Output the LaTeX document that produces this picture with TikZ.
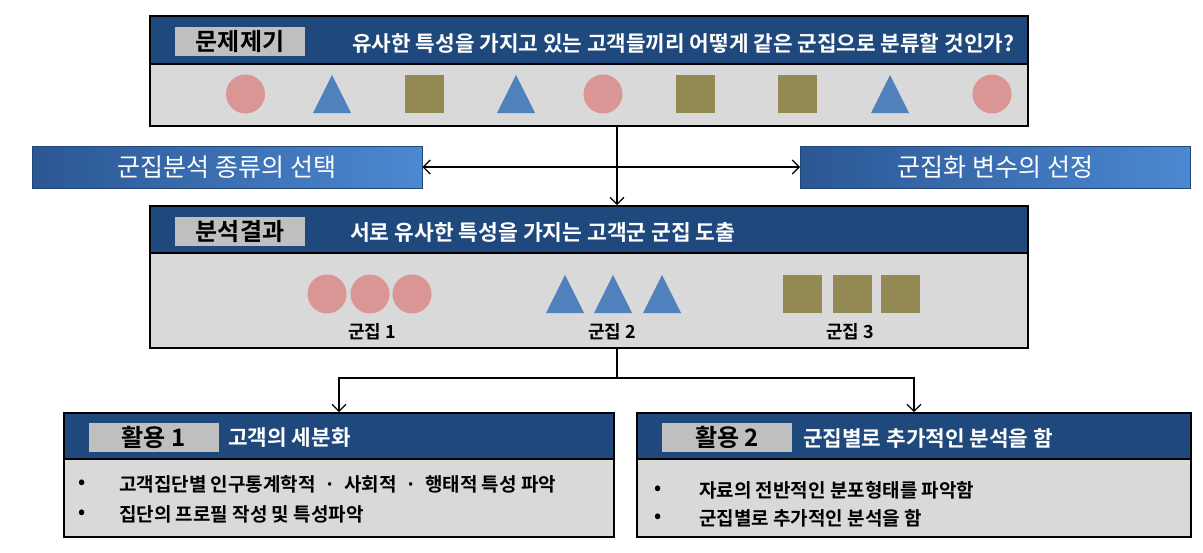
\documentclass[tikz,border=0pt]{standalone}
\usepackage{fontspec}
\setmainfont{Noto Sans CJK KR}[BoldFont={Noto Sans CJK KR Bold}]
\usetikzlibrary{calc,arrows.meta}
\definecolor{headblue}{HTML}{1F497D}
\definecolor{bodygray}{HTML}{D9D9D9}
\definecolor{taggray}{HTML}{BFBFBF}
\definecolor{pinkc}{HTML}{D99694}
\definecolor{triblue}{HTML}{4F81BD}
\definecolor{olivec}{HTML}{938953}
\definecolor{seldark}{HTML}{2B5794}
\definecolor{sellight}{HTML}{4C88D2}
\tikzset{
  headbox/.style={draw=black,line width=1.6pt,fill=headblue,inner sep=0pt},
  bodybox/.style={draw=black,line width=1.6pt,fill=bodygray,inner sep=0pt},
  tagbox/.style={fill=taggray,inner sep=0pt,minimum width=130pt,minimum height=29pt,font=\fontsize{24}{26}\selectfont\bfseries},
  headtxt/.style={anchor=west,inner sep=0pt,text=white,font=\fontsize{21.3}{24}\selectfont\bfseries},
  selbox/.style={draw=seldark!80!black,line width=0.8pt,left color=seldark,right color=sellight,minimum width=390pt,minimum height=42pt,text=white,font=\fontsize{25}{27}\selectfont},
  cltxt/.style={inner sep=0pt,font=\fontsize{18}{20}\selectfont\bfseries},
  itemtxt/.style={anchor=west,inner sep=0pt,font=\fontsize{19}{21}\selectfont\bfseries},
  barb/.style={line width=1.3pt,-{Straight Barb[length=7pt,width=14pt]}},
  dbarb/.style={line width=1.3pt,{Straight Barb[length=7pt,width=14pt]}-{Straight Barb[length=7pt,width=14pt]}}
}
\begin{document}
\begin{tikzpicture}[x=1pt,y=-1pt]
\useasboundingbox[fill=white] (0,0) rectangle (1203,552);
\coordinate (split) at (617,0);
\coordinate (fork) at (617,378);

\node[headbox,minimum width=878pt,minimum height=48pt] (probhead) at (589,40) {};
\node[bodybox,minimum width=878pt,minimum height=62pt] (probbody) at (589,95) {};
\node[tagbox] (probtag) at (240,41.5) {문제제기};
\node[headtxt] (probtxt) at (352,43) {유사한 특성을 가지고 있는 고객들끼리 어떻게 같은 군집으로 분류할 것인가?};
\foreach \x in {245.5,603,992} \fill[pinkc] (\x,94) circle (19.5);
\foreach \x in {332,516,890} \fill[triblue] (\x-19,113) -- (\x,75) -- (\x+19,113) -- cycle;
\foreach \x in {424,695,797} \fill[olivec] (\x-19.5,75) rectangle (\x+19.5,113);

\node[selbox] (kind) at (227,167) {군집분석 종류의 선택};
\node[selbox] (vars) at (995.5,167) {군집화 변수의 선정};

\node[headbox,minimum width=878pt,minimum height=47pt] (reshead) at (589,229.5) {};
\node[bodybox,minimum width=878pt,minimum height=95pt] (resbody) at (589,300.5) {};
\node[tagbox] (restag) at (240,231.5) {분석결과};
\node[headtxt,font=\fontsize{21.5}{24}\selectfont\bfseries] (restxt) at (350,232) {서로 유사한 특성을 가지는 고객군 군집 도출};
\foreach \x in {327,370,412} \fill[pinkc] (\x,294) circle (19.5);
\foreach \x in {565,613,662} \fill[triblue] (\x-19,313) -- (\x,275) -- (\x+19,313) -- cycle;
\foreach \x in {802,852,900} \fill[olivec] (\x-19.5,275) rectangle (\x+19.5,313);
\node[cltxt] (cl1) at (372,332) {군집 1};
\node[cltxt] (cl2) at (612,332) {군집 2};
\node[cltxt] (cl3) at (850,332) {군집 3};

\node[headbox,minimum width=550pt,minimum height=46pt] (usehead) at (339,436) {};
\node[bodybox,minimum width=550pt,minimum height=78pt] (usebody) at (339,498) {};
\node[tagbox] (usetag) at (153.5,437.5) {활용 1};
\node[headtxt] (usetxt) at (228,438) {고객의 세분화};
\node[itemtxt] (dota) at (78,484) {•};
\node[itemtxt] (itema) at (119,484) {고객집단별 인구통계학적 \ · \ 사회적 \ · \ 행태적 특성 파악};
\node[itemtxt] (dotb) at (78,514) {•};
\node[itemtxt] (itemb) at (119,514) {집단의 프로필 작성 및 특성파악};

\node[headbox,minimum width=554pt,minimum height=46pt] (morehead) at (914,436) {};
\node[bodybox,minimum width=554pt,minimum height=78pt] (morebody) at (914,498) {};
\node[tagbox] (moretag) at (727,437.5) {활용 2};
\node[headtxt] (moretxt) at (803,438) {군집별로 추가적인 분석을 함};
\node[itemtxt] (dotc) at (654,490) {•};
\node[itemtxt] (itemc) at (699,490) {자료의 전반적인 분포형태를 파악함};
\node[itemtxt] (dotd) at (654,518) {•};
\node[itemtxt] (itemd) at (699,518) {군집별로 추가적인 분석을 함};

\draw[dbarb] (kind.east) -- (vars.west);
\draw[barb] (probbody.south -| split) -- (reshead.north -| split);
\draw[line width=1.3pt] (resbody.south -| split) -- (fork);
\draw[barb] (fork) -| (usehead.north);
\draw[barb] (fork) -| (morehead.north);
\end{tikzpicture}
\end{document}
